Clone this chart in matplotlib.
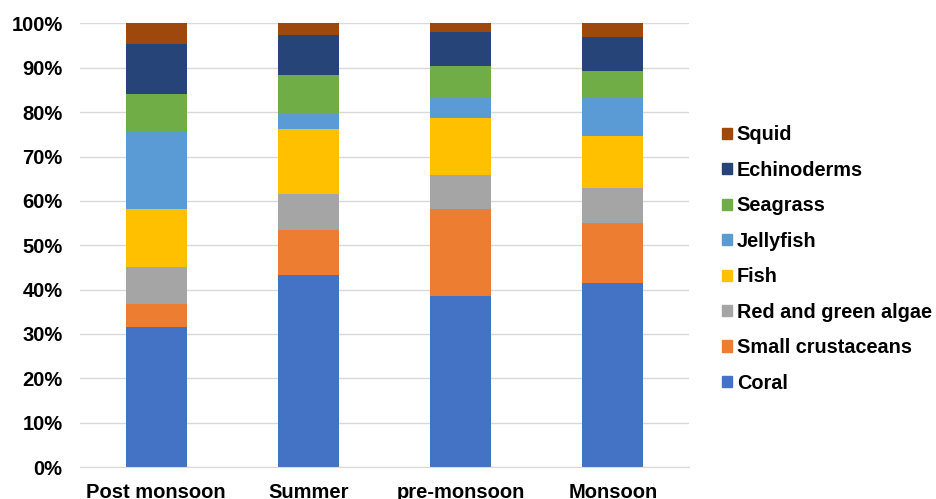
import numpy as np
import matplotlib
matplotlib.use("Agg")
import matplotlib.pyplot as plt
from matplotlib.patches import Patch
from matplotlib.ticker import FuncFormatter, MultipleLocator

seasons = ["Post monsoon", "Summer", "pre-monsoon", "Monsoon"]

# percentage share of each prey group, bottom to top of the stack
coral = [31.5, 43.2, 38.5, 41.5]
small_crustaceans = [5.3, 10.2, 19.7, 13.6]
algae = [8.3, 8.2, 7.6, 7.7]
fish = [13.1, 14.6, 12.8, 11.9]
jellyfish = [17.6, 3.5, 4.5, 8.4]
seagrass = [8.3, 8.6, 7.4, 6.2]
echinoderms = [11.3, 9.1, 7.5, 7.7]
squid = [4.6, 2.6, 2.0, 3.0]

groups = ["Coral", "Small crustaceans", "Red and green algae", "Fish",
          "Jellyfish", "Seagrass", "Echinoderms", "Squid"]
colors = ["#4472C4", "#ED7D31", "#A5A5A5", "#FFC000",
          "#5B9BD5", "#70AD47", "#264478", "#9E480E"]

plt.rcParams['font.family'] = 'Liberation Sans'
plt.rcParams['font.weight'] = 'bold'
plt.rcParams['font.size'] = 14.5

fig = plt.figure(figsize=(9.36, 4.99), dpi=100)
ax = fig.add_axes([0.0855, 0.064, 0.6505, 0.889])

vals = np.array([coral, small_crustaceans, algae, fish,
                 jellyfish, seagrass, echinoderms, squid]) / 100.0
# normalise each season so the stack fills 100%
vals = vals / vals.sum(axis=0)

ind = np.arange(len(seasons))
bottom = np.zeros(len(seasons))
for v, c in zip(vals, colors):
    ax.bar(ind, v, 0.4, bottom=bottom, color=c, linewidth=0, zorder=3)
    bottom += v

ax.set_xlim(-0.5, len(seasons) - 0.5)
ax.set_ylim(0, 1)
ax.yaxis.set_major_locator(MultipleLocator(0.1))
ax.yaxis.set_major_formatter(FuncFormatter(lambda y, _: '{:.0%}'.format(y)))
ax.set_xticks(ind)
ax.set_xticklabels(seasons)
ax.tick_params(axis='both', length=0, labelsize=14.5)
ax.tick_params(axis='x', pad=11.5)
ax.tick_params(axis='y', pad=12.5)
ax.grid(axis='y', color='#d9d9d9', linewidth=1, zorder=0)
for s in ['top', 'right', 'left']:
    ax.spines[s].set_visible(False)
ax.spines['bottom'].set_color('#d9d9d9')
ax.spines['bottom'].set_zorder(4)

handles = [Patch(color=c, label=g) for g, c in zip(groups, colors)][::-1]
fig.legend(handles=handles, loc='center left', bbox_to_anchor=(0.752, 0.481),
           frameon=False, handlelength=0.5, handleheight=0.5,
           handletextpad=0.25, labelspacing=0.83, fontsize=14.3)

fig.savefig("out.png", dpi=100)
